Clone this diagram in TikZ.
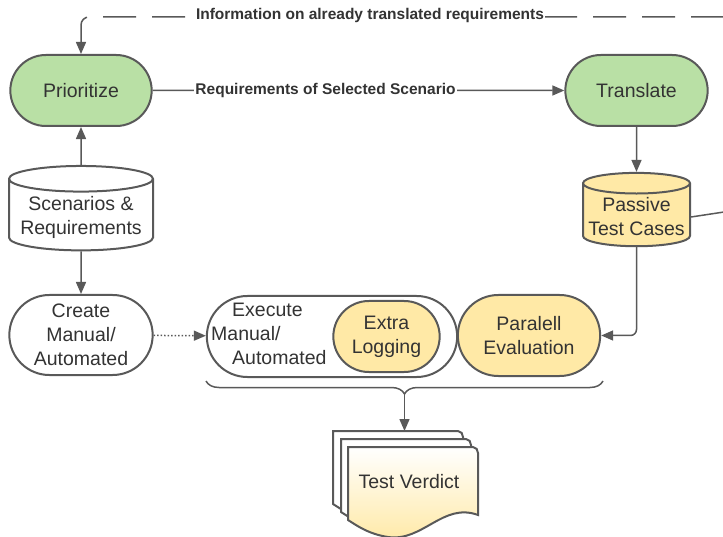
\documentclass[tikz,border=0pt]{standalone}
\usepackage{fontspec}
\setmainfont{Liberation Sans}
\usetikzlibrary{arrows.meta,shapes.misc,shapes.geometric,decorations.pathreplacing}

\definecolor{boxgreen}{HTML}{B9E0A5}
\definecolor{boxyellow}{HTML}{FFE9A6}
\definecolor{edgegray}{HTML}{595959}
\definecolor{txtgray}{HTML}{333333}

\tikzset{
  pill/.style={rounded rectangle,draw=edgegray,line width=2pt,align=center,
    text=txtgray,font=\fontsize{19.5}{24}\selectfont},
  store/.style={cylinder,shape border rotate=90,draw=edgegray,line width=2pt,
    aspect=0.2,align=center,text=txtgray,font=\fontsize{19.5}{24}\selectfont},
  arr/.style={draw=edgegray,line width=1.5pt,-{Triangle[length=12pt,width=10pt]}},
  plain/.style={draw=edgegray,line width=1.5pt},
  lbl/.style={fill=white,inner sep=1pt,text=txtgray,
    font=\fontsize{15.5}{17}\selectfont\bfseries}
}

% one sheet of the verdict stack, top left corner at (#1,#2)
\newcommand{\verdictsheet}[3]{%
  \draw[edgegray,line width=2pt,#3,shift={(#1,#2)}]
    (0,0) -- (125,0) to[out=0,in=90] (130,6) -- (130,68)
    .. controls (95,55) and (75,95) .. (40,90)
    .. controls (20,87) and (8,78) .. (0,73) -- cycle;}

\begin{document}
\begin{tikzpicture}[x=1pt,y=-1pt]
  \useasboundingbox (0,0) rectangle (723,537);

  \node[pill,fill=boxgreen,minimum width=148pt,minimum height=71pt] (prio) at (81,90.5) {Prioritize};
  \node[pill,fill=boxgreen,minimum width=149pt,minimum height=71pt] (trans) at (636.5,90.5) {Translate};
  \node[store,fill=white,minimum width=144pt,minimum height=74pt] (scen) at (81,217) {Scenarios \&\\Requirements};
  \node[store,fill=boxyellow,minimum width=107pt,minimum height=72pt] (passive) at (636.5,217) {Passive\\Test Cases};
  \node[pill,fill=white,minimum width=150pt,minimum height=80pt] (create) at (81,335) {Create\\Manual/\\Automated};
  \node[pill,fill=white,minimum width=257pt,minimum height=81pt] (exec) at (332,336.5) {};
  \node[anchor=west,inner sep=0pt,align=left,text=txtgray,font=\fontsize{19.5}{24}\selectfont] (exectext) at (211,334)
    {\hspace{21pt}Execute\\Manual/\\\hspace{21pt}Automated};
  \node[pill,fill=boxyellow,minimum width=113pt,minimum height=71pt] (extra) at (386.5,336.5) {Extra\\Logging};
  \node[pill,fill=boxyellow,minimum width=149pt,minimum height=81pt] (para) at (529,335.5) {Paralell\\Evaluation};

  % feedback from the right edge
  \coordinate (feedin) at (724,17);
  \draw[arr,dash pattern=on 33pt off 16pt,rounded corners=8pt] (feedin) -- (prio.north |- feedin) -- (prio.north);
  \node[lbl] (feedlbl) at (370,15) {Information on already translated requirements};
  \coordinate (passout) at (724,212);
  \draw[plain] (passive.east) -- (passout);

  \draw[arr] (prio) -- node[lbl,pos=0.42] (reqlbl) {Requirements of Selected Scenario} (trans);
  \draw[arr] (scen) -- (prio);
  \draw[arr] (scen) -- (create);
  \draw[arr] (trans) -- (passive);
  \draw[arr,rounded corners=6pt] (passive.south) |- (para.east);
  \draw[arr,dotted] (create) -- (exec);

  % brace over execution and evaluation
  \draw[plain,decorate,decoration={brace,mirror,amplitude=13pt}] (206,381) -- (603,381);
  \coordinate (bracetip) at (404.5,395);
  \coordinate (doctop) at (404.5,431);
  \draw[arr] (bracetip) -- (doctop);

  \verdictsheet{333}{431}{fill=white}
  \verdictsheet{341}{439}{fill=white}
  \verdictsheet{348}{447}{top color=white,bottom color=boxyellow}
  \node[text=txtgray,font=\fontsize{19.5}{24}\selectfont] (verdict) at (409,482) {Test Verdict};
\end{tikzpicture}
\end{document}
